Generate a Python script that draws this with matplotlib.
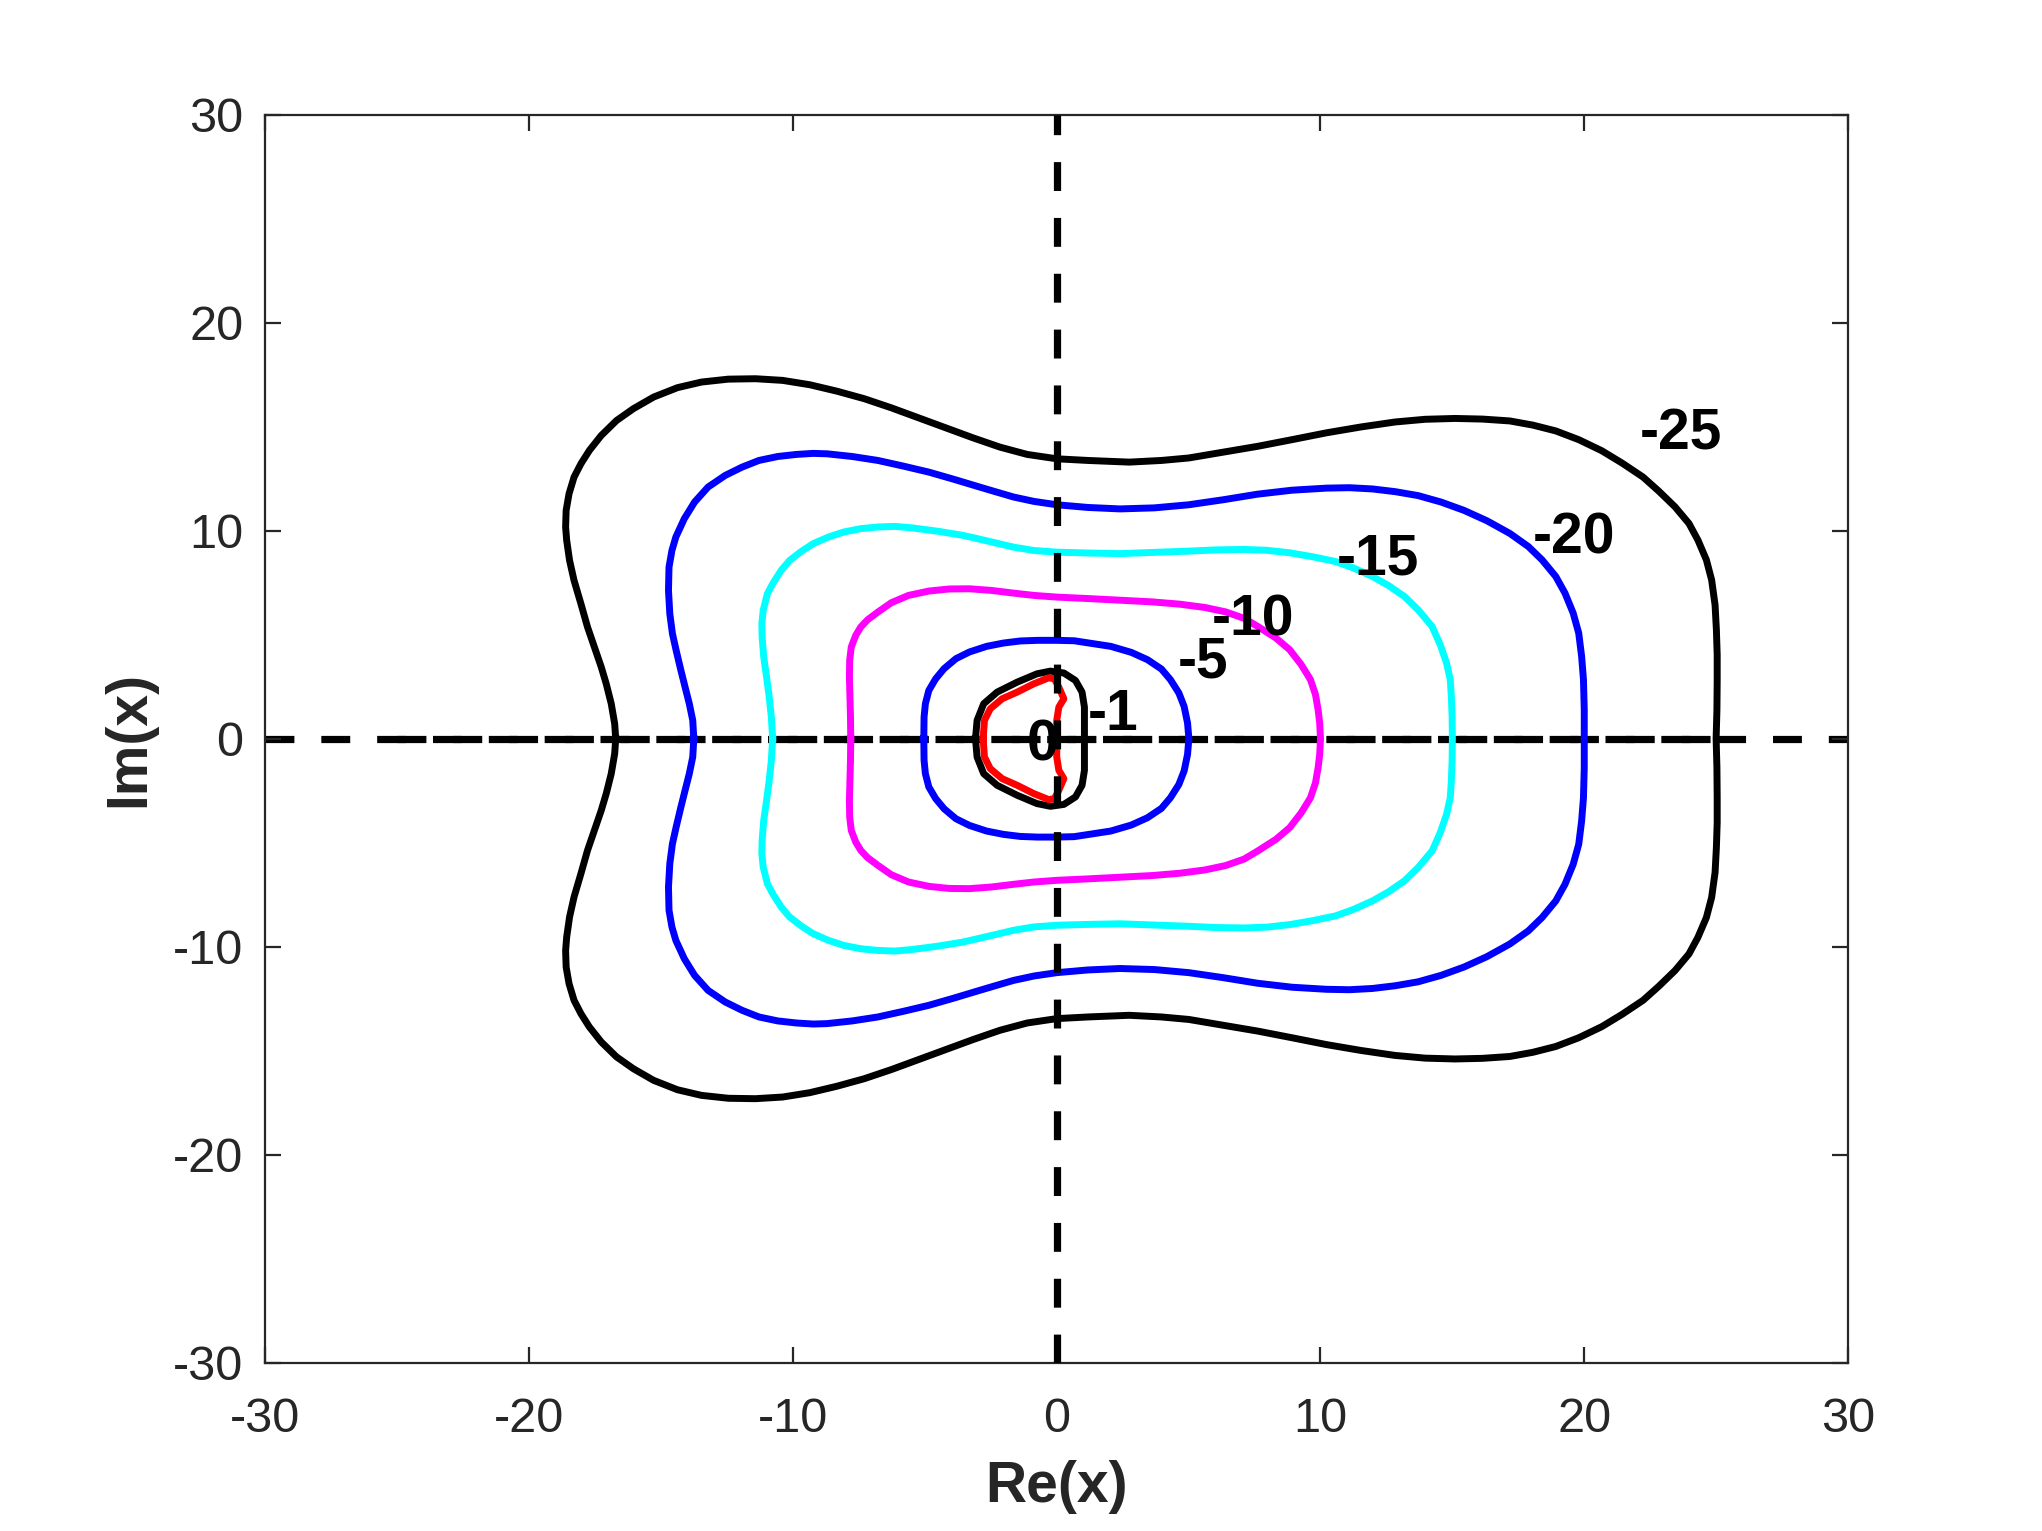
import numpy as np
import matplotlib
matplotlib.use("Agg")
import matplotlib.pyplot as plt

plt.rcParams['font.family'] = ['Liberation Sans', 'DejaVu Sans']
plt.rcParams['axes.unicode_minus'] = False
plt.rcParams['lines.scale_dashes'] = False

# contour levels (upper half, left crossing -> right crossing)
levels = [-25, -20, -15, -10, -5, -1, 0]
colors = ['black', 'blue', 'cyan', 'magenta', 'blue', 'black', 'red']

c25_re = [-16.72, -16.76, -16.89, -17.08, -17.27, -17.53, -17.79, -18.04, -18.30, -18.47,
          -18.58, -18.62, -18.60, -18.49, -18.30, -18.04, -17.72, -17.27, -16.69, -16.05,
          -15.28, -14.38, -13.47, -12.45, -11.42, -10.39, -9.36, -8.33, -7.30, -6.27,
          -5.24, -4.21, -3.18, -2.15, -1.12, 0.0,
          1.18, 2.75, 3.97, 5.01, 6.31, 7.62, 8.92, 10.23, 11.53, 12.83, 13.97, 15.10,
          16.14, 17.18, 18.05, 18.92, 19.79, 20.66, 21.44, 22.23, 22.83, 23.44, 23.97,
          24.31, 24.63, 24.83, 24.96, 25.01, 25.04, 25.04, 25.03, 25.0]
c25_im = [0.0, 0.72, 1.68, 2.64, 3.45, 4.41, 5.37, 6.49, 7.61, 8.57,
          9.54, 10.18, 10.98, 11.78, 12.58, 13.22, 13.86, 14.58, 15.30, 15.87,
          16.43, 16.88, 17.15, 17.29, 17.31, 17.23, 17.02, 16.71, 16.35, 15.91,
          15.43, 14.95, 14.47, 14.02, 13.67, 13.46,
          13.38, 13.30, 13.38, 13.50, 13.78, 14.06, 14.38, 14.71, 14.99, 15.23, 15.36, 15.40,
          15.37, 15.28, 15.08, 14.80, 14.38, 13.85, 13.25, 12.58, 11.90, 11.15, 10.35,
          9.55, 8.60, 7.63, 6.43, 5.23, 4.03, 2.83, 1.39, 0.0]

c20_re = [-13.76, -13.80, -13.93, -14.09, -14.25, -14.43, -14.57, -14.67, -14.72, -14.70,
          -14.59, -14.44, -14.12, -13.73, -13.22, -12.57, -11.93, -11.29, -10.58, -9.87,
          -9.23, -8.71, -7.75, -6.78, -5.82, -4.85, -3.89, -2.92, -2.28, -1.63, -0.86, 0.0,
          1.18, 2.40, 3.70, 5.01, 6.31, 7.62, 8.92, 10.23, 11.10, 11.97, 12.83, 13.70,
          14.57, 15.44, 16.31, 17.18, 17.88, 18.40, 18.92, 19.27, 19.58, 19.79, 19.90,
          19.97, 20.0, 20.0]
c20_im = [0.0, 0.88, 1.68, 2.48, 3.29, 4.25, 5.05, 6.01, 7.13, 8.25,
          9.05, 9.70, 10.58, 11.38, 12.10, 12.66, 13.06, 13.38, 13.57, 13.67,
          13.72, 13.70, 13.57, 13.38, 13.11, 12.82, 12.47, 12.10, 11.86, 11.62, 11.41, 11.25,
          11.12, 11.05, 11.10, 11.25, 11.49, 11.76, 11.95, 12.05, 12.07, 12.01, 11.88, 11.69,
          11.38, 10.98, 10.48, 9.87, 9.24, 8.60, 7.80, 7.00, 6.04, 5.08, 3.96,
          2.84, 1.39, 0.0]

c15_re = [-10.77, -10.82, -10.90, -11.00, -11.11, -11.17, -11.18, -11.13, -10.97, -10.77,
          -10.45, -10.13, -9.68, -9.23, -8.65, -8.07, -7.43, -6.78, -6.14, -5.50,
          -4.53, -3.56, -2.60, -1.63, -0.86, 0.0,
          1.18, 2.40, 3.70, 5.01, 6.05, 7.10, 7.97, 8.83, 9.70, 10.57, 11.27, 11.97,
          12.57, 13.18, 13.70, 14.23, 14.54, 14.78, 14.92, 14.96, 14.99, 15.0]
c15_im = [0.0, 1.04, 2.00, 2.96, 3.93, 4.89, 5.53, 6.17, 6.97, 7.45,
          8.09, 8.57, 9.01, 9.38, 9.70, 9.94, 10.10, 10.18, 10.21, 10.14,
          9.98, 9.78, 9.50, 9.21, 9.05, 8.97,
          8.93, 8.90, 8.96, 9.02, 9.08, 9.10, 9.06, 8.94, 8.75, 8.52, 8.20, 7.80,
          7.37, 6.84, 6.20, 5.40, 4.52, 3.64, 2.84, 2.04, 1.07, 0.0]

c10_re = [-7.81, -7.82, -7.84, -7.86, -7.85, -7.79, -7.62, -7.43, -7.17, -6.78,
          -6.27, -5.62, -4.85, -4.08, -3.31, -2.47, -1.63, -0.86, 0.0,
          1.18, 2.40, 3.62, 4.66, 5.62, 6.40, 7.10, 7.62, 8.31, 8.83, 9.27, 9.62,
          9.81, 9.91, 9.97, 10.0]
c10_im = [0.0, 1.04, 2.00, 2.96, 3.77, 4.41, 4.97, 5.37, 5.72, 6.09,
          6.54, 6.89, 7.10, 7.20, 7.21, 7.13, 7.00, 6.89, 6.81,
          6.74, 6.66, 6.58, 6.47, 6.31, 6.10, 5.79, 5.40, 4.84, 4.28, 3.56, 2.84,
          2.12, 1.39, 0.75, 0.0]

c5_re = [-5.04, -5.03, -4.98, -4.85, -4.59, -4.27, -3.82, -3.31, -2.66, -2.02, -1.38,
         -0.73, 0.0, 0.66, 2.05, 2.83, 3.44, 3.97, 4.31, 4.63, 4.83, 4.96, 5.01]
c5_im = [0.0, 1.04, 1.68, 2.32, 2.88, 3.37, 3.85, 4.17, 4.44, 4.60, 4.70,
         4.73, 4.73, 4.71, 4.44, 4.15, 3.80, 3.35, 2.84, 2.20, 1.55, 0.75, 0.0]

c1_re = [-3.08, -3.02, -2.77, -2.26, -1.50, -0.75, -0.24, 0.27, 0.71, 0.96, 1.05, 1.05]
c1_im = [0.0, 0.88, 1.68, 2.24, 2.72, 3.12, 3.25, 3.16, 2.80, 2.24, 1.52, 0.0]

c0_re = [-2.79, -2.74, -2.52, -2.07, -1.50, -0.87, -0.30, -0.09, 0.08, 0.27, 0.08, 0.0, 0.0]
c0_im = [0.0, 0.88, 1.44, 1.92, 2.24, 2.64, 2.93, 2.88, 2.48, 1.92, 1.52, 0.88, 0.0]

# where the contour labels sit
label_re = [23.65, 19.62, 12.17, 7.46, 5.53, 2.14, -0.53]
label_im = [14.64, 9.64, 8.64, 5.68, 3.68, 1.14, -0.34]

ticks = [-30, -20, -10, 0, 10, 20, 30]


def closed(re, im):
    """Mirror the upper half about the real axis to get the closed curve."""
    re = np.asarray(re)
    im = np.asarray(im)
    x = np.concatenate([re, re[-2::-1]])
    y = np.concatenate([im, -im[-2::-1]])
    return x, y


curves = [(c25_re, c25_im), (c20_re, c20_im), (c15_re, c15_im), (c10_re, c10_im),
          (c5_re, c5_im), (c1_re, c1_im), (c0_re, c0_im)]

fig = plt.figure(figsize=(10.21, 7.655), dpi=200)
ax = fig.add_axes([0.13, 0.11, 0.775, 0.815])

dash = (0, (10.4, 9.7))
ax.plot([-30, 30], [0, 0], color='black', lw=2.6, linestyle=dash, zorder=1)
ax.plot([-25, 25], [0, 0], color='black', lw=2.6, linestyle=dash, zorder=1)

for (re, im), col in zip(curves, colors):
    x, y = closed(re, im)
    ax.plot(x, y, color=col, lw=2.5, zorder=2, solid_joinstyle='round')

ax.plot([0, 0], [-30, 30], color='black', lw=2.6, linestyle=dash, zorder=3)

for lev, lx, ly in zip(levels, label_re, label_im):
    ax.text(lx, ly, str(lev), fontsize=20.5, fontweight='bold', color='black',
            ha='center', va='center', zorder=4)

ax.set_xlim(-30, 30)
ax.set_ylim(-30, 30)
ax.set_xticks(ticks)
ax.set_yticks(ticks)
ax.tick_params(direction='in', length=5.8, width=0.8, colors='#262626',
               labelsize=17.5, top=True, right=True)
ax.tick_params(axis='x', pad=12.5)
ax.tick_params(axis='y', pad=8)
for sp in ax.spines.values():
    sp.set_color('#262626')
    sp.set_linewidth(0.8)

ax.set_xlabel('Re(x)', fontsize=20.5, fontweight='bold', color='#262626')
ax.set_ylabel('Im(x)', fontsize=20.5, fontweight='bold', color='#262626')
ax.xaxis.set_label_coords(0.5, -0.078)
ax.yaxis.set_label_coords(-0.069, 0.5)

fig.savefig('out.png', dpi=200)
